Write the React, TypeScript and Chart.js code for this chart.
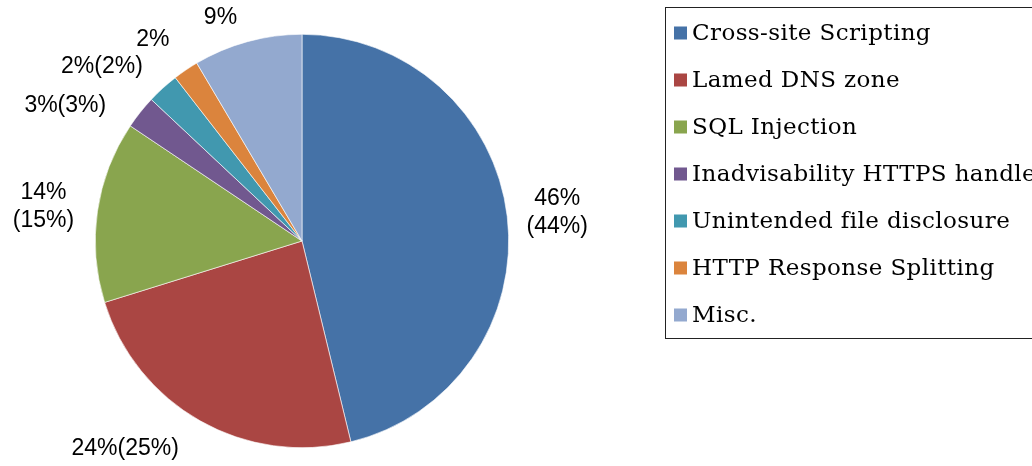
import React, { useEffect, useRef } from "react";
import { Chart, registerables } from "chart.js";

Chart.register(...registerables);

const categories = [
  "Cross-site Scripting",
  "Lamed DNS zone",
  "SQL Injection",
  "Inadvisability HTTPS handle",
  "Unintended file disclosure",
  "HTTP Response Splitting",
  "Misc.",
];
const values = [46.2, 24.0, 14.2, 2.6, 2.5, 2.0, 8.5];
const labelLines = [
  ["46%", "(44%)"],
  ["24%(25%)"],
  ["14%", "(15%)"],
  ["3%(3%)"],
  ["2%(2%)"],
  ["2%"],
  ["9%"],
];
const colors = ["#4572A7", "#AA4643", "#89A54E", "#71588F", "#4198AF", "#DB843D", "#93A9CF"];
// label nudges relative to the arc's outer mid point
const labelNudges = [
  [50, -4],
  [-75, 28],
  [-54, -5],
  [-75, -7],
  [-61, -21],
  [-33, -30],
  [-27, -24],
];

const labelPlugin = {
  id: "outLabels",
  afterDatasetsDraw(chart: any) {
    const ctx = chart.ctx;
    const meta = chart.getDatasetMeta(0);
    ctx.save();
    ctx.font = "23px 'Liberation Sans', Arial, sans-serif";
    ctx.fillStyle = "#000";
    ctx.textAlign = "center";
    ctx.textBaseline = "middle";
    meta.data.forEach((arc: any, i: number) => {
      const p = arc.getProps(["x", "y", "startAngle", "endAngle", "outerRadius"], true);
      const mid = (p.startAngle + p.endAngle) / 2;
      const ax = p.x + Math.cos(mid) * p.outerRadius;
      const ay = p.y + Math.sin(mid) * p.outerRadius;
      const cx = ax + labelNudges[i][0];
      const cy = ay + labelNudges[i][1];
      const lines = labelLines[i];
      const lh = 28;
      lines.forEach((t, k) => {
        ctx.fillText(t, cx, cy + (k - (lines.length - 1) / 2) * lh);
      });
    });
    ctx.restore();
  },
};

const legendPlugin = {
  id: "boxLegend",
  afterDraw(chart: any) {
    const ctx = chart.ctx;
    const ds = chart.data.datasets[0];
    ctx.save();
    ctx.strokeStyle = "#222";
    ctx.lineWidth = 1;
    ctx.strokeRect(665.5, 7.5, 420, 331);
    ctx.font = "23px 'DejaVu Serif', serif";
    try {
      (ctx as any).letterSpacing = "0.4px";
    } catch (e) {}
    ctx.textAlign = "left";
    ctx.textBaseline = "middle";
    chart.data.labels.forEach((lab: string, i: number) => {
      const y = 33 + i * 47;
      ctx.fillStyle = ds.backgroundColor[i];
      ctx.fillRect(674, y - 6.5, 13, 13);
      ctx.fillStyle = "#000";
      ctx.fillText(lab, 692, y + 1);
    });
    ctx.restore();
  },
};

export default function App() {
  const ref = useRef<HTMLCanvasElement>(null);
  useEffect(() => {
    if (!ref.current) return;
    const chart = new Chart(ref.current, {
      type: "pie",
      data: {
        labels: categories,
        datasets: [
          {
            data: values,
            backgroundColor: colors,
            borderColor: "#ffffff",
            borderWidth: 0.6,
          },
        ],
      },
      options: {
        animation: false,
        responsive: false,
        devicePixelRatio: 1,
        layout: { padding: { left: 95, right: 523, top: 34, bottom: 18 } },
        plugins: { legend: { display: false }, tooltip: { enabled: false } },
      },
      plugins: [labelPlugin, legendPlugin],
    });
    return () => chart.destroy();
  }, []);
  return (
    <div style={{ position: "absolute", left: 0, top: 0, width: 1032, height: 466, background: "#fff" }}>
      <canvas ref={ref} width={1032} height={466} />
    </div>
  );
}
